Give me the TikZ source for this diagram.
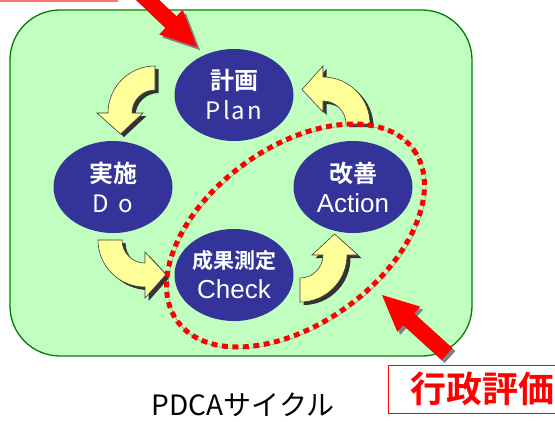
\documentclass[tikz,border=0pt]{standalone}
\usepackage{fontspec}
\setmainfont{Liberation Sans}
\newfontfamily\jpfont{Noto Sans CJK JP}[BoldFont={Noto Sans CJK JP Bold}]
\newfontfamily\lsans{Liberation Sans}
\usetikzlibrary{calc,shapes.geometric,shadows}

\definecolor{panelgreen}{RGB}{192,255,192}
\definecolor{paneledge}{RGB}{0,128,0}
\definecolor{phaseblue}{RGB}{51,51,153}
\definecolor{cycleyellow}{RGB}{255,255,153}
\definecolor{shadowgray}{RGB}{128,128,128}

\newcommand{\en}[1]{{\lsans\mdseries\fontsize{26}{30}\selectfont #1}}
\newcommand{\jpen}[1]{{\jpfont\mdseries\fontsize{24}{30}\selectfont #1}}

% yellow quarter arrow: centre, start angle, end angle
\newcommand{\cyclearrow}[3]{%
  \path[cyclearrow] (#1) ++(#2:47) arc[start angle=#2, end angle=#3, radius=47]
    -- ($(#1)+(#3:58)$) -- ($(#1)+(#3:34.5)+(#3-90:21)$)
    -- ($(#1)+(#3:12)$) -- ($(#1)+(#3:23)$)
    arc[start angle=#3, end angle=#2, radius=23] -- cycle;}

% red block arrow: name, tail, tip
\newcommand{\blockarrow}[3]{%
  \coordinate (#1-base) at ($(#3)!36pt!(#2)$);
  \path[blockarrow] ($(#2)!8pt!-90:(#3)$) -- ($(#1-base)!8pt!90:(#2)$)
    -- ($(#1-base)!17pt!90:(#2)$) -- (#3) -- ($(#1-base)!17pt!-90:(#2)$)
    -- ($(#1-base)!8pt!-90:(#2)$) -- ($(#2)!8pt!90:(#3)$) -- cycle;}

\tikzset{
  phase/.style={ellipse, fill=phaseblue, minimum width=119pt, minimum height=92pt,
    inner sep=0pt, text=white, align=center,
    font=\jpfont\bfseries\fontsize{24}{30}\selectfont},
  cyclearrow/.style={fill=cycleyellow, draw=black!75, line width=0.6pt,
    drop shadow={shadow xshift=3.5pt, shadow yshift=-3pt, opacity=1, fill=black!80}},
  blockarrow/.style={fill=red,
    drop shadow={shadow xshift=3pt, shadow yshift=-3pt, opacity=1, fill=shadowgray}},
  reviewline/.style={draw=red, line width=5pt, dash pattern=on 6pt off 4.5pt,
    preaction={draw=shadowgray, transform canvas={shift={(1.5pt,-1.5pt)}}}},
  evalbox/.style={draw=red, line width=1pt, fill=white, text=red, anchor=west,
    minimum height=48pt, inner xsep=22pt,
    font=\jpfont\bfseries\fontsize{36}{40}\selectfont}
}

\begin{document}
\begin{tikzpicture}[x=1pt,y=-1pt]
  \clip (0,0) rectangle (555,421);

  % panel
  \draw[fill=panelgreen, draw=paneledge, line width=1.3pt, rounded corners=50pt]
    (10,10) rectangle (472,356);

  % phases
  \node[phase] (plan)   at (234,95)  {計画\\\jpen{P\hspace{2pt}l\hspace{2pt}a\hspace{2pt}n}};
  \node[phase] (do)     at (113,187) {実施\\\jpen{D\hspace{9pt}o}};
  \node[phase] (check)  at (234,275) {{\fontsize{21}{30}\selectfont 成果測定}\\\en{Check}};
  \node[phase] (action) at (353,187) {改善\\\en{Action}};

  % cycle arrows
  \cyclearrow{155,113}{-90}{-180}
  \cyclearrow{145,240}{180}{90}
  \cyclearrow{300,255}{90}{0}
  \cyclearrow{323,124}{0}{-90}

  % evaluation area
  \coordinate (review) at (295.5,235.5);
  \draw[reviewline, rotate around={36:(review)}] (review) ellipse [x radius=146, y radius=88];

  % pointers
  \coordinate (plan-tail)   at (132,-15);
  \coordinate (plan-tip)    at (197,47);
  \coordinate (review-tail) at (447,354);
  \coordinate (review-tip)  at (382,295);
  \blockarrow{top}{plan-tail}{plan-tip}
  \blockarrow{low}{review-tail}{review-tip}

  % labels
  \draw[draw=red!55, line width=1.3pt] (-20,-40) rectangle (117,1);
  \node[evalbox] (evallabel) at (388,389) {行政評価};
  \node[font=\jpfont\fontsize{28}{32}\selectfont] (caption) at (243,405) {PDCAサイクル};
\end{tikzpicture}
\end{document}
